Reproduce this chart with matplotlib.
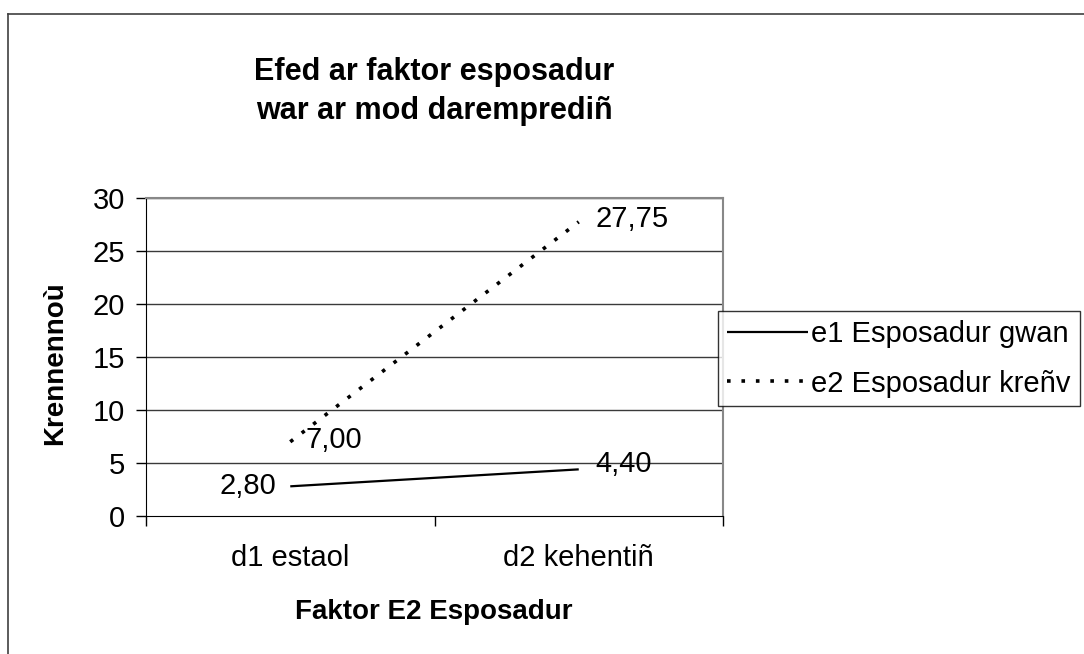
import matplotlib
matplotlib.use("Agg")
import matplotlib.pyplot as plt
from matplotlib.lines import Line2D

plt.rcParams['font.family'] = ['Liberation Sans', 'DejaVu Sans']

categories = ["d1 estaol", "d2 kehentiñ"]
e1_values = [2.80, 4.40]
e2_values = [7.00, 27.75]
series_names = ["e1 Esposadur gwan", "e2 Esposadur kreñv"]
y_ticks = [0, 5, 10, 15, 20, 25, 30]
title_lines = ["Efed ar faktor esposadur", "war ar mod daremprediñ"]
x_label = "Faktor E2 Esposadur"
y_label = "Krennennoù"

W, H = 1084, 654
fig = plt.figure(figsize=(W / 100, H / 100), dpi=100)

# outer chart border
fig.add_artist(Line2D([8 / W, 8 / W], [0, 1 - 14 / H], color='#404040', lw=1.2))
fig.add_artist(Line2D([8 / W, 1], [1 - 14 / H, 1 - 14 / H], color='#404040', lw=1.2))

ax = fig.add_axes([146 / W, 1 - 516 / H, (723 - 146) / W, (516 - 198) / H])
x = list(range(len(categories)))

l1, = ax.plot(x, e1_values, color='black', lw=1.6, solid_capstyle='butt')
l2, = ax.plot(x, e2_values, color='black', lw=2.6, linestyle=(0, (1, 3)))

FS = 21
ax.set_xlim(-0.5, len(categories) - 0.5)
ax.set_ylim(0, 30)
ax.set_yticks(y_ticks)
ax.set_yticklabels([str(v) for v in y_ticks])
ax.set_xticks([i - 0.5 for i in range(len(categories) + 1)])
ax.set_xticklabels([])
ax.set_xticks(x, minor=True)
ax.set_xticklabels(categories, minor=True)
ax.tick_params(axis='x', which='major', direction='out', length=7, width=1, color='black')
ax.tick_params(axis='x', which='minor', length=0, pad=20, labelsize=FS)
ax.tick_params(axis='y', direction='out', length=7, width=1, pad=8, labelsize=FS)

for v in y_ticks[1:]:
    ax.axhline(v, color='#3a3a3a', lw=1, zorder=0)

for s in ['top', 'right']:
    ax.spines[s].set_color('#888888')
    ax.spines[s].set_linewidth(1.5)
ax.spines['left'].set_color('black')
ax.spines['bottom'].set_color('black')

fmt = lambda v: f"{v:.2f}".replace('.', ',')
ax.annotate(fmt(e1_values[0]), (0, e1_values[0]), xytext=(-10, 0), textcoords='offset points',
            ha='right', va='center', fontsize=FS)
ax.annotate(fmt(e1_values[1]), (1, e1_values[1]), xytext=(12, 4), textcoords='offset points',
            ha='left', va='center', fontsize=FS)
ax.annotate(fmt(e2_values[0]), (0, e2_values[0]), xytext=(11, 1), textcoords='offset points',
            ha='left', va='center', fontsize=FS)
ax.annotate(fmt(e2_values[1]), (1, e2_values[1]), xytext=(12, 2), textcoords='offset points',
            ha='left', va='center', fontsize=FS)

fig.text(434 / W, 1 - 80 / H, title_lines[0], ha='center', va='baseline', fontsize=22,
         fontweight='bold')
fig.text(434 / W, 1 - 119 / H, title_lines[1], ha='center', va='baseline', fontsize=22,
         fontweight='bold')
fig.text(434 / W, 1 - 612 / H, x_label, ha='center', va='center', fontsize=20, fontweight='bold')
fig.text(55 / W, 1 - 363 / H, y_label, ha='center', va='center', rotation=90,
         fontsize=20, fontweight='bold')

leg = fig.legend([l1, l2], series_names, loc='upper left',
                 bbox_to_anchor=(718 / W, 1 - 311 / H), fontsize=FS,
                 frameon=True, fancybox=False, handlelength=2.8, handletextpad=0.1,
                 borderpad=0.3, labelspacing=0.75, borderaxespad=0)
leg.get_frame().set_edgecolor('black')
leg.get_frame().set_linewidth(1.0)

fig.savefig('out.png', dpi=100)
